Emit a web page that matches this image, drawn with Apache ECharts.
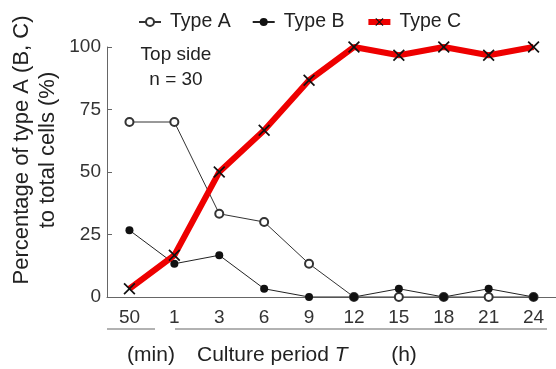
<!DOCTYPE html>
<html>
<head>
<meta charset="utf-8">
<script src="https://cdn.jsdelivr.net/npm/echarts@6/dist/echarts.min.js"></script>
<style>
  html, body { margin: 0; padding: 0; background: #fff; }
  #chart { width: 556px; height: 369px; }
</style>
</head>
<body>
<div id="chart"></div>
<script>
// culture period: first point is 50 min, the rest are hours
const periods = ['50', '1', '3', '6', '9', '12', '15', '18', '21', '24'];
const typeA = [70, 70, 33.3, 30, 13.3, 0, 0, 0, 0, 0];
const typeB = [26.7, 13.3, 16.7, 3.3, 0, 0, 3.3, 0, 3.3, 0];
const typeC = [3.3, 16.7, 50, 66.7, 86.7, 100, 96.7, 100, 96.7, 100];
const yTicks = [0, 25, 50, 75, 100];

const FONT = '"Liberation Sans", Arial, sans-serif';
const crossPath = 'path://M1,0L5,4L9,0L10,1L6,5L10,9L9,10L5,6L1,10L0,9L4,5L0,1Z';

const chart = echarts.init(document.getElementById('chart'));

const option = {
  animation: false,
  textStyle: { fontFamily: FONT },
  legend: {
    top: 7,
    left: 133,
    itemWidth: 22,
    itemHeight: 10,
    itemGap: 21,
    textStyle: { fontSize: 19.5, color: '#222', fontFamily: FONT, padding: [0, 0, 0, 4] },
    data: [
      'Type A',
      'Type B',
      { name: 'Type C', lineStyle: { width: 6, color: '#ee0000' } }
    ]
  },
  grid: { left: 107, right: -3, top: 47, bottom: 72 },
  xAxis: {
    type: 'category',
    data: periods,
    boundaryGap: true,
    axisLine: { lineStyle: { color: '#666', width: 1 } },
    axisTick: { inside: true, length: 4, lineStyle: { color: '#666' } },
    axisLabel: { fontSize: 19, color: '#333', margin: 11, fontFamily: FONT }
  },
  yAxis: {
    type: 'value',
    min: yTicks[0],
    max: yTicks[yTicks.length - 1],
    interval: 25,
    splitLine: { show: false },
    axisLine: { show: true, lineStyle: { color: '#666', width: 1 } },
    axisTick: { show: true, inside: true, length: 5, lineStyle: { color: '#666' } },
    axisLabel: { fontSize: 19, color: '#333', margin: 6, fontFamily: FONT }
  },
  series: [
    {
      name: 'Type A',
      type: 'line',
      data: typeA,
      symbol: 'emptyCircle',
      symbolSize: 8,
      lineStyle: { color: '#333', width: 1 },
      itemStyle: { color: '#333', borderWidth: 1 },
      z: 3
    },
    {
      name: 'Type B',
      type: 'line',
      data: typeB,
      symbol: 'circle',
      symbolSize: 8,
      lineStyle: { color: '#222', width: 1 },
      itemStyle: { color: '#111' },
      z: 3
    },
    {
      name: 'Type C',
      type: 'line',
      data: typeC,
      symbol: crossPath,
      symbolSize: 12,
      lineStyle: { color: '#ee0000', width: 6 },
      itemStyle: { color: '#111' },
      z: 4
    }
  ],
  graphic: [
    {
      type: 'text', x: 35, y: 150, rotation: Math.PI / 2,
      style: {
        text: 'Percentage of type A (B, C)\nto total cells (%)',
        font: '22px ' + FONT, fill: '#222',
        align: 'center', verticalAlign: 'middle', lineHeight: 26
      }
    },
    {
      type: 'text', x: 176, y: 67,
      style: {
        text: 'Top side\nn = 30', font: '19px ' + FONT, fill: '#222',
        align: 'center', verticalAlign: 'middle', lineHeight: 25
      }
    },
    { type: 'line', shape: { x1: 107, y1: 329, x2: 155, y2: 329 }, style: { stroke: '#999', lineWidth: 1.5 } },
    { type: 'line', shape: { x1: 175, y1: 329, x2: 547, y2: 329 }, style: { stroke: '#999', lineWidth: 1.5 } },
    {
      type: 'text', x: 151, y: 355,
      style: { text: '(min)', font: '21px ' + FONT, fill: '#222', align: 'center', verticalAlign: 'middle' }
    },
    {
      type: 'text', x: 197, y: 355,
      style: {
        text: 'Culture period {i|T}', font: '21px ' + FONT, fill: '#222',
        align: 'left', verticalAlign: 'middle',
        rich: { i: { fontStyle: 'italic', fontSize: 21, fontFamily: FONT, fill: '#222' } }
      }
    },
    {
      type: 'text', x: 404, y: 355,
      style: { text: '(h)', font: '21px ' + FONT, fill: '#222', align: 'center', verticalAlign: 'middle' }
    }
  ]
};

chart.setOption(option);
</script>
</body>
</html>
